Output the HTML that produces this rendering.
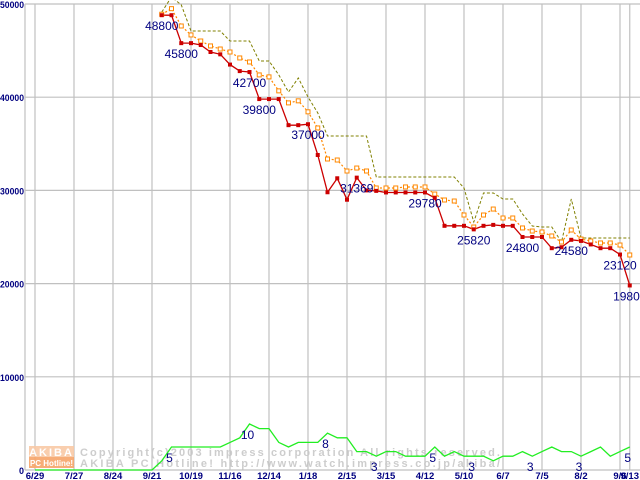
<!DOCTYPE html>
<html><head><meta charset="utf-8"><style>
html,body{margin:0;padding:0;background:#fff;}
svg{display:block;}
text{font-family:"Liberation Sans",sans-serif;}
</style></head><body>
<svg id="chart" width="640" height="480" viewBox="0 0 640 480" xmlns="http://www.w3.org/2000/svg">
<g id="grid"></g>
<g id="wm" opacity="0.9">
  <rect x="29" y="446" width="45" height="11" fill="#f9c9a6"/>
  <text x="51.5" y="456" font-size="11" font-weight="bold" fill="#fff" text-anchor="middle" letter-spacing="2">AKIBA</text>
  <rect x="29" y="457" width="45" height="11" fill="#f7a56a"/>
  <text x="51.5" y="466" font-size="8" font-weight="bold" fill="#fff" text-anchor="middle">PC Hotline!</text>
  <text x="80" y="456" font-size="11" font-weight="bold" fill="#c8c8c8" font-family="Liberation Mono,monospace" textLength="420">Copyright(c)2003 impress corporation All rights reserved.</text>
  <text x="80" y="467" font-size="11" font-weight="bold" fill="#c8c8c8" font-family="Liberation Mono,monospace" textLength="420">AKIBA PC Hotline!  http://www.watch.impress.co.jp/akiba/</text>
</g>
<g id="series"></g>
<g id="labels"></g>
</svg>
<script>
const dateLabels=["6/29","7/27","8/24","9/21","10/19","11/16","12/14","1/18","2/15","3/15","4/12","5/10","6/7","7/5","8/2","9/6","9/13"];
const dateIdx=[0,4,8,12,16,20,24,28,32,36,40,44,48,52,56,60,61];
const yTicks=[0,10000,20000,30000,40000,50000];
const startIdx=13;
const minPrice=[48800,48800,45800,45800,45600,44850,44600,43500,42800,42700,39800,39800,39800,37000,37000,37100,33800,29800,31300,29000,31369,30000,29950,29780,29780,29780,29780,29780,29200,26200,26200,26200,25820,26200,26300,26200,26200,25000,25000,25000,23800,23900,24700,24580,24200,23800,23800,23120,19800];
const avgPrice=[48900,49500,47640,46680,46030,45500,45170,44850,44210,43780,42390,42180,40680,39390,39610,38430,36700,33370,33260,32080,32400,32080,30260,30260,30260,30370,30370,30370,29610,28970,28860,27360,26070,27360,28000,27040,27040,25970,25640,25540,25110,24460,25750,24780,24570,24360,24360,24140,23070];
const maxPrice=[49140,50750,49900,47100,47100,47100,47100,46030,46030,46030,43880,43880,42390,40560,42060,40020,38310,35840,35840,35840,35840,35840,31440,31440,31440,31440,31440,31440,31440,31440,31440,30260,26610,29720,29720,29080,29080,27470,26180,26070,26070,24460,29080,24890,24890,24890,24890,24890,24890];
const shopCount=[0,0,0,0,0,0,0,0,0,0,0,0,0,2,5,5,5,5,5,5,6,7,10,9,9,6,5,6,6,6,8,7,7,4,4,3,4,4,3,3,3,5,3,4,3,3,3,2,3,3,4,3,4,5,4,4,3,4,5,3,4,5];
const priceLabelIdx=[13,15,22,23,28,33,40,45,50,55,60,61];
const priceLabelText=["48800","45800","42700","39800","37000","31369","29780","25820","24800","24580","23120","19800"];
const countLabelIdx=[14,22,30,35,41,45,51,56,61];

const X0=35,DX=9.75,Y0=470,PY=466/50000,CY=4.6;
const xs=i=>X0+DX*i, yp=v=>Y0-v*PY, yc=v=>Y0-v*CY;
const NS="http://www.w3.org/2000/svg";
function mk(tag,parent,attrs){const e=document.createElementNS(NS,tag);for(const k in attrs)e.setAttribute(k,attrs[k]);parent.appendChild(e);return e;}
const grid=document.getElementById('grid'),ser=document.getElementById('series'),lab=document.getElementById('labels');
yTicks.forEach(v=>{
  const l=mk('line',grid,{x1:25,x2:640,y1:yp(v),y2:yp(v),stroke:'#c0c0c0','stroke-width':1.2});
  
  
  const s=String(v);
  const attrs={x:24,y:Math.max(yp(v)+4,8),'font-size':9,'font-weight':'bold',fill:'#000080','text-anchor':'end'};
  if(s.length>1){attrs.textLength=s.length*4.8;attrs.lengthAdjust='spacingAndGlyphs';}
  const t=mk('text',grid,attrs);
  t.textContent=s;
  
  
});
const ax=mk('line',grid,{x1:25,x2:25,y1:4,y2:470,stroke:'#c0c0c0','stroke-width':1.2});


dateIdx.forEach((d,k)=>{
  const x=xs(d);
  const l=mk('line',grid,{x1:x,x2:x,y1:4,y2:470,stroke:'#c0c0c0','stroke-width':1.2});
  
  
  const t=mk('text',grid,{x:x,y:479,'font-size':9.5,'font-weight':'bold',fill:'#000080','text-anchor':'middle'});
  t.textContent=dateLabels[k];
  
  
});
function poly(arr,off,yf,attrs,name){
  const pts=arr.map((v,i)=>xs(i+off).toFixed(1)+','+yf(v).toFixed(1)).join(' ');
  const p=mk('polyline',ser,Object.assign({points:pts,fill:'none'},attrs));
  
  
}
poly(shopCount,0,yc,{stroke:'#22ee22','stroke-width':1.3},'shop-count-line');
poly(maxPrice,startIdx,yp,{stroke:'#808000','stroke-width':1,'stroke-dasharray':'3 2'},'max-price-line');
poly(avgPrice,startIdx,yp,{stroke:'#ff8800','stroke-width':1.2,'stroke-dasharray':'2 2'},'avg-price-line');
poly(minPrice,startIdx,yp,{stroke:'#cc0000','stroke-width':1.3},'min-price-line');
avgPrice.forEach((v,i)=>{
  const r=mk('rect',ser,{x:xs(i+startIdx)-2,y:yp(v)-2,width:4,height:4,fill:'#fff',stroke:'#ff8800','stroke-width':1});
  
  
});
minPrice.forEach((v,i)=>{
  const r=mk('rect',ser,{x:xs(i+startIdx)-2,y:yp(v)-2,width:4,height:4,fill:'#cc0000'});
  
  
});
priceLabelIdx.forEach((d,k)=>{
  const t=mk('text',lab,{x:xs(d),y:yp(minPrice[d-startIdx])+15,'font-size':12,fill:'#000080','text-anchor':'middle'});
  t.textContent=priceLabelText[k];
  
  
});
countLabelIdx.forEach(d=>{
  const t=mk('text',lab,{x:xs(d)-2,y:yc(shopCount[d])+15,'font-size':12,fill:'#000080','text-anchor':'middle'});
  t.textContent=String(shopCount[d]);
  
  
});
</script>
</body></html>
